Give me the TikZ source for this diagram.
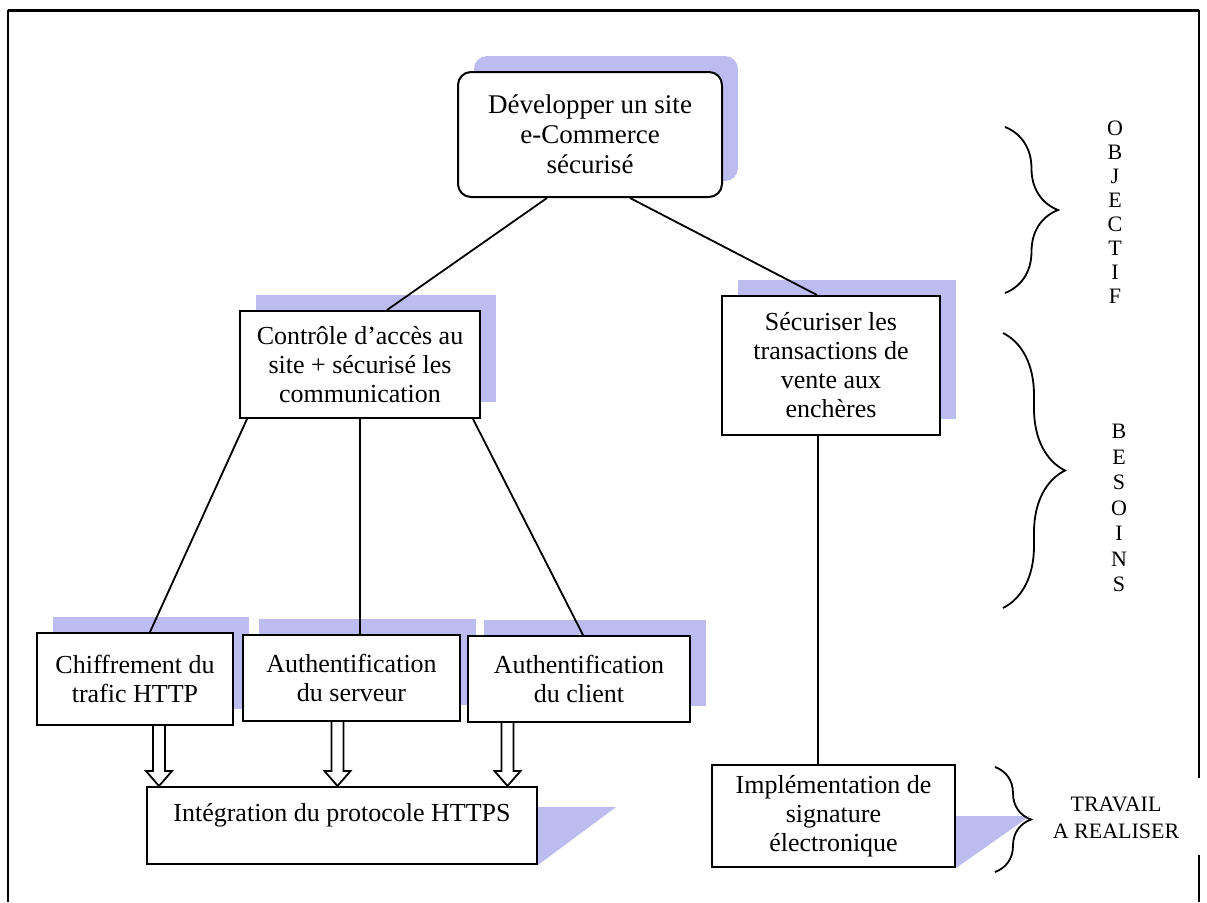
\documentclass[tikz,border=0pt]{standalone}
\usepackage{fontspec}
\setmainfont{Liberation Serif}
\usetikzlibrary{calc, shadows, backgrounds, decorations.pathreplacing}
\definecolor{shadowblue}{RGB}{188,188,240}

\begin{document}
\begin{tikzpicture}[x=0.5pt, y=-0.5pt,
  box/.style={draw, line width=1pt, fill=white, align=center, inner sep=2pt,
    font=\fontsize{13}{14.5}\selectfont,
    drop shadow={shadow xshift=8pt, shadow yshift=8pt, fill=shadowblue, opacity=1}},
  flatbox/.style={draw, line width=1pt, fill=white, align=center, inner sep=2pt,
    font=\fontsize{13}{14.5}\selectfont},
  link/.style={line width=0.9pt},
  fatarrow/.style={line width=0.9pt},
  bracket/.style={decorate, line width=0.9pt},
  side/.style={align=center, font=\fontsize{11}{12}\selectfont}]
\useasboundingbox (0,0) rectangle (1207,902);

% Frame
\draw[line width=1.5pt] (8,10) -- (1199,10);
\draw[line width=1pt] (8,10) -- (8,902);
\draw[line width=1pt] (1199,10) -- (1199,778);
\draw[line width=1pt] (1199,855) -- (1199,902);

% Objectif
\node[box, rounded corners=6.5pt, minimum width=132pt, minimum height=62.5pt,
  font=\fontsize{13.5}{15}\selectfont] (dev) at (590,134.5)
  {Développer un site\\e-Commerce\\sécurisé};

% Besoins
\node[box, minimum width=120pt, minimum height=53.5pt] (ctrl) at (360,364.5)
  {Contrôle d’accès au\\site + sécurisé les\\communication};
\node[box, minimum width=109pt, minimum height=69.5pt] (secur) at (831,365.5)
  {Sécuriser les\\transactions de\\vente aux\\enchères};

\node[box, minimum width=98pt, minimum height=46pt] (chiff) at (135,679)
  {Chiffrement du\\trafic HTTP};
\node[box, minimum width=108.5pt, minimum height=43pt] (authserv) at (351.5,678)
  {Authentification\\du serveur};
\node[box, minimum width=111pt, minimum height=43pt] (authcli) at (579,679)
  {Authentification\\du client};

% Travail a realiser
\node[flatbox, minimum width=195pt, minimum height=38.5pt, text depth=13pt] (https) at (342,825.5)
  {Intégration du protocole HTTPS};
\node[flatbox, minimum width=121.5pt, minimum height=51pt] (sig) at (833.5,816)
  {Implémentation de\\signature\\électronique};

\begin{scope}[on background layer]
\fill[shadowblue] ($(https.north east)+(0,21)$) -- ++(78,0) -- (https.south east) -- cycle;
\fill[shadowblue] ($(sig.north east)+(0,52)$) -- ++(74,0) -- (sig.south east) -- cycle;
\end{scope}

% Links
\draw[link] ([xshift=-21.5pt]dev.south) -- ([xshift=13.5pt]ctrl.north);
\draw[link] ([xshift=20pt]dev.south) -- ([xshift=-7pt]secur.north);
\draw[link] ([xshift=-56.5pt]ctrl.south) -- ([xshift=7.5pt]chiff.north);
\draw[link] (ctrl.south) -- ([xshift=4.25pt]authserv.north);
\draw[link] ([xshift=56.5pt]ctrl.south) -- ([xshift=2pt]authcli.north);
\draw[link] ([xshift=-6.5pt]secur.south) -- ([xshift=-7.75pt]sig.north);

% Hollow arrows
\foreach \src/\dx in {chiff/12pt, authserv/-7pt, authcli/-35.75pt}
  \draw[fatarrow] let \p1 = ([xshift=\dx]\src.south), \p2 = (https.north) in
    (\x1-3pt,\y1) -- (\x1-3pt,\y2+7.5pt) -- (\x1-6.5pt,\y2+7.5pt) -- (\x1,\y2)
    -- (\x1+6.5pt,\y2+7.5pt) -- (\x1+3pt,\y2+7.5pt) -- (\x1+3pt,\y1);

% Braces
\draw[bracket, decoration={brace, amplitude=26.5pt}] (1005,127) -- (1005,293);
\draw[bracket, decoration={brace, amplitude=31pt}] (1003,333) -- (1003,608);
\draw[bracket, decoration={brace, amplitude=18pt}] (995,767) -- (995,872);

\node[side] (obj) at (1115,212) {O\\B\\J\\E\\C\\T\\I\\F};
\node[side, font=\fontsize{11}{12.75}\selectfont] (bes) at (1119,508) {B\\E\\S\\O\\I\\N\\S};
\node[side, font=\fontsize{11}{13.5}\selectfont] (trav) at (1116,818) {TRAVAIL\\A REALISER};
\end{tikzpicture}
\end{document}
